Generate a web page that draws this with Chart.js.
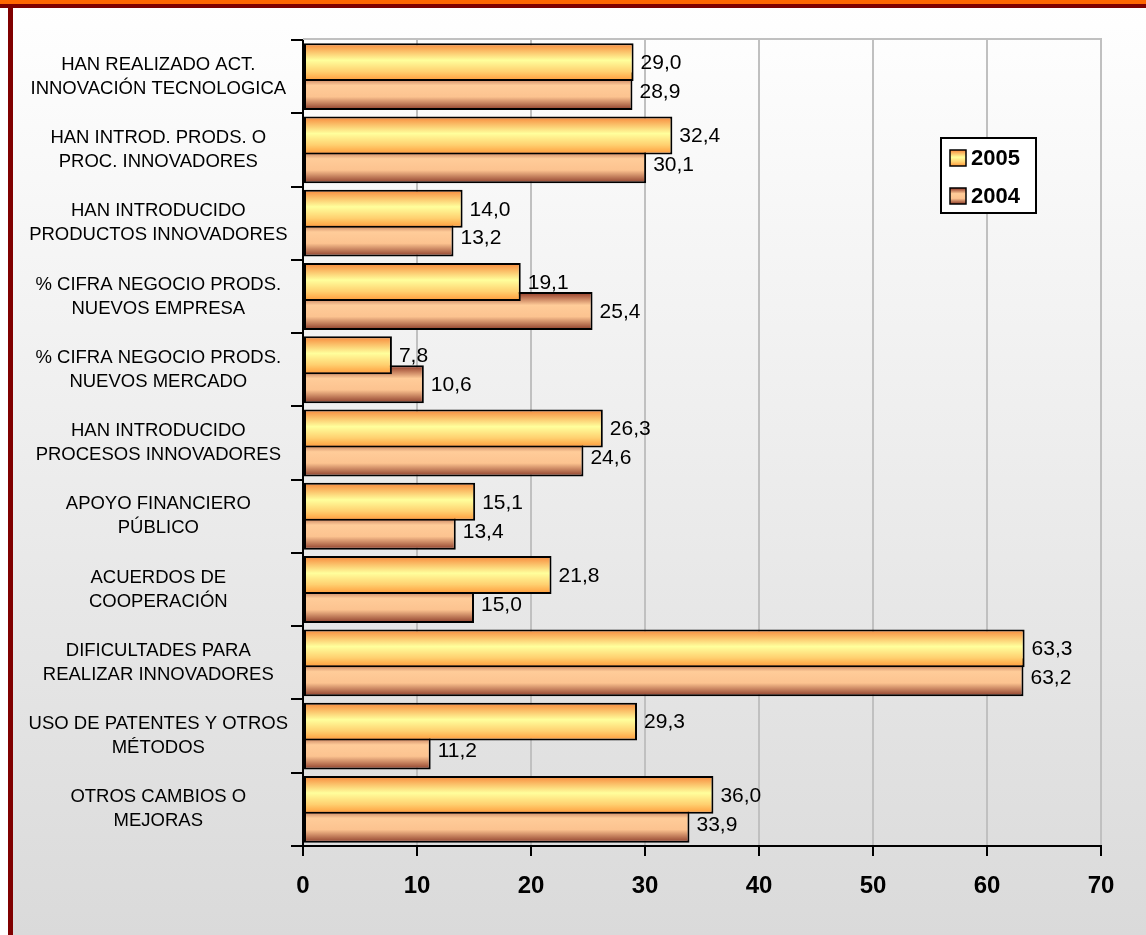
<!DOCTYPE html>
<html>
<head>
<meta charset="utf-8">
<script src="https://cdn.jsdelivr.net/npm/chart.js@4"></script>
<style>
html,body{margin:0;padding:0;background:#fff;}
#wrap{width:1146px;height:935px;position:relative;}
</style>
</head>
<body>
<div id="wrap"><canvas id="c" width="1146" height="935"></canvas></div>
<script>
const categories = [
  ["HAN REALIZADO ACT.", "INNOVACIÓN TECNOLOGICA"],
  ["HAN INTROD. PRODS. O", "PROC. INNOVADORES"],
  ["HAN INTRODUCIDO", "PRODUCTOS INNOVADORES"],
  ["% CIFRA NEGOCIO PRODS.", "NUEVOS EMPRESA"],
  ["% CIFRA NEGOCIO PRODS.", "NUEVOS MERCADO"],
  ["HAN INTRODUCIDO", "PROCESOS INNOVADORES"],
  ["APOYO FINANCIERO", "PÚBLICO"],
  ["ACUERDOS DE", "COOPERACIÓN"],
  ["DIFICULTADES PARA", "REALIZAR INNOVADORES"],
  ["USO DE PATENTES Y OTROS", "MÉTODOS"],
  ["OTROS CAMBIOS O", "MEJORAS"]
];
const values2005 = [29.0, 32.4, 14.0, 19.1, 7.8, 26.3, 15.1, 21.8, 63.3, 29.3, 36.0];
const values2004 = [28.9, 30.1, 13.2, 25.4, 10.6, 24.6, 13.4, 15.0, 63.2, 11.2, 33.9];
const seriesNames = ["2005", "2004"];
const xTicks = [0, 10, 20, 30, 40, 50, 60, 70];

const CAT_PCT = 0.79, BAR_PCT = 1.31;

const stops = [
  [[0, '#f7863a'], [0.45, '#ffff9c'], [0.75, '#ffd070'], [1, '#ff9838']],
  [[0, '#8e3322'], [0.35, '#ffcc99'], [0.65, '#fcc390'], [1, '#8a3a28']]
];
function makeGrad(ctx, top, bottom, d) {
  const g = ctx.createLinearGradient(0, top, 0, bottom);
  stops[d].forEach(s => g.addColorStop(s[0], s[1]));
  return g;
}
function barFill(context) {
  const chart = context.chart;
  const d = context.datasetIndex;
  const ys = chart.scales && chart.scales.y;
  if (context.type !== 'data' || !ys || !chart.chartArea) return stops[d][1][1];
  const W = ys.height / categories.length;
  const slot = W * CAT_PCT / 2;
  const size = slot * BAR_PCT;
  const c = ys.getPixelForValue(context.dataIndex) + (d - 0.5) * slot;
  return makeGrad(chart.ctx, c - size / 2, c + size / 2, d);
}

const bgPlugin = {
  id: 'bg',
  beforeDraw(chart) {
    const ctx = chart.ctx, w = chart.width, h = chart.height;
    ctx.save();
    const g = ctx.createLinearGradient(0, 0, 0, h);
    g.addColorStop(0, '#ffffff');
    g.addColorStop(1, '#dadada');
    ctx.fillStyle = g;
    ctx.fillRect(0, 0, w, h);
    ctx.fillStyle = '#ffffff';
    ctx.fillRect(0, 8, 8, h);
    ctx.fillStyle = '#ff6600';
    ctx.fillRect(0, 0, w, 4);
    ctx.fillStyle = '#800000';
    ctx.fillRect(0, 4, w, 4);
    ctx.fillRect(8, 8, 5, h);
    ctx.restore();
  },
  beforeDatasetsDraw(chart) {
    const ctx = chart.ctx, a = chart.chartArea;
    ctx.save();
    ctx.strokeStyle = '#c0c0c0';
    ctx.lineWidth = 2;
    ctx.beginPath();
    ctx.moveTo(a.left, a.top - 1);
    ctx.lineTo(a.right + 1, a.top - 1);
    ctx.stroke();
    ctx.restore();
  },
  afterDatasetsDraw(chart) {
    const ctx = chart.ctx;
    ctx.save();
    ctx.font = '21px "Liberation Sans", Arial, sans-serif';
    ctx.fillStyle = '#000';
    ctx.textBaseline = 'middle';
    ctx.textAlign = 'left';
    chart.data.datasets.forEach((ds, d) => {
      const meta = chart.getDatasetMeta(d);
      meta.data.forEach((el, i) => {
        const t = ds.data[i].toFixed(1).replace('.', ',');
        ctx.fillText(t, el.x + 7, el.y + 1);
      });
    });
    ctx.restore();
  },
  afterDraw(chart) {
    const ctx = chart.ctx;
    ctx.save();
    const bx = 941, by = 138, bw = 95, bh = 75;
    ctx.fillStyle = '#ffffff';
    ctx.fillRect(bx, by, bw, bh);
    ctx.strokeStyle = '#000';
    ctx.lineWidth = 2;
    ctx.strokeRect(bx, by, bw, bh);
    ctx.font = 'bold 22px "Liberation Sans", Arial, sans-serif';
    ctx.textBaseline = 'middle';
    ctx.textAlign = 'left';
    seriesNames.forEach((n, d) => {
      const sy = 150 + d * 38;
      ctx.fillStyle = makeGrad(ctx, sy, sy + 16, d);
      ctx.fillRect(950, sy, 16, 16);
      ctx.lineWidth = 1.5;
      ctx.strokeRect(950, sy, 16, 16);
      ctx.fillStyle = '#000';
      ctx.fillText(n, 971, sy + 9);
    });
    ctx.restore();
  }
};

new Chart(document.getElementById('c'), {
  type: 'bar',
  data: {
    labels: categories,
    datasets: [
      { label: seriesNames[0], data: values2005, backgroundColor: barFill, borderColor: '#000', borderWidth: 2, borderSkipped: false, categoryPercentage: CAT_PCT, barPercentage: BAR_PCT },
      { label: seriesNames[1], data: values2004, backgroundColor: barFill, borderColor: '#000', borderWidth: 2, borderSkipped: false, categoryPercentage: CAT_PCT, barPercentage: BAR_PCT }
    ]
  },
  options: {
    indexAxis: 'y',
    responsive: false,
    animation: false,
    devicePixelRatio: 1,
    layout: { padding: { left: 0, top: 40, right: 45, bottom: 0 } },
    plugins: { legend: { display: false }, tooltip: { enabled: false } },
    scales: {
      x: {
        min: 0, max: 70,
        afterBuildTicks(s) { s.ticks = xTicks.map(v => ({ value: v })); },
        afterFit(s) { s.height = 89; },
        grid: { color: '#c0c0c0', lineWidth: 2, tickColor: '#000', tickLength: 10 },
        border: { color: '#000', width: 2 },
        ticks: { color: '#000', padding: 16, font: { family: '"Liberation Sans", Arial, sans-serif', size: 24, weight: 'bold' } }
      },
      y: {
        afterFit(s) { s.width = 303; },
        grid: { display: true, drawOnChartArea: false, offset: true, tickColor: '#000', lineWidth: 2, tickLength: 12 },
        border: { color: '#000', width: 2 },
        ticks: { color: '#000', crossAlign: 'center', padding: 3, autoSkip: false, font: { family: '"Liberation Sans", Arial, sans-serif', size: 18.5, lineHeight: 1.3 } }
      }
    }
  },
  plugins: [bgPlugin]
});
</script>
</body>
</html>
